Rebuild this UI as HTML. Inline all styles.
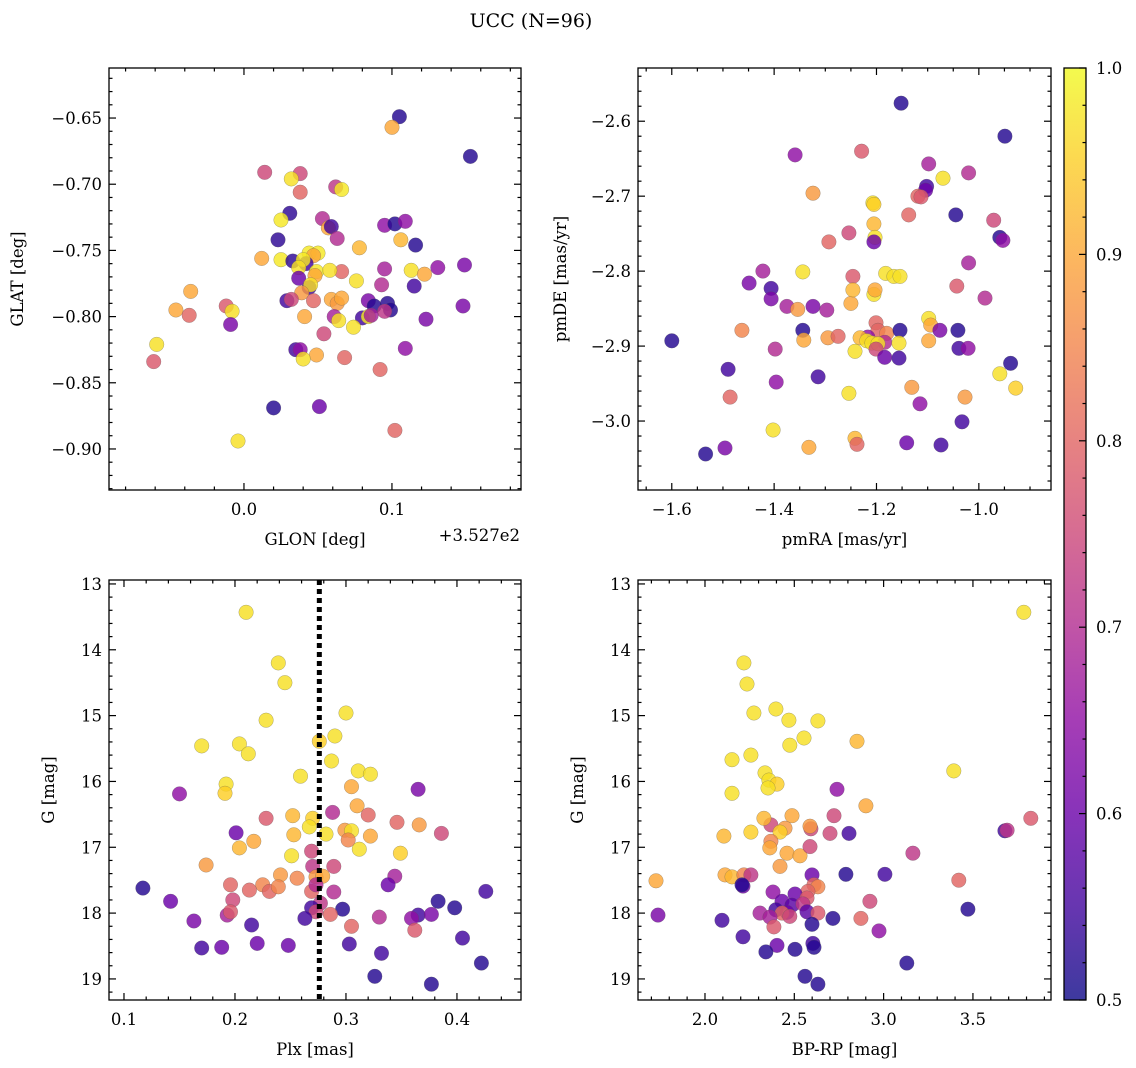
<!DOCTYPE html>
<html><head><meta charset="utf-8">
<style>
html,body{margin:0;padding:0;background:#fff;}
svg{display:block;font-family:"DejaVu Serif","Liberation Serif",serif;}
</style></head>
<body>
<svg id="fig" width="1136" height="1068" viewBox="0 0 1136 1068" xmlns="http://www.w3.org/2000/svg">
<defs>
<linearGradient id="plasma" x1="0" y1="1" x2="0" y2="0">
<stop offset="0" stop-color="#0d0887"/><stop offset="0.1" stop-color="#41049d"/><stop offset="0.2" stop-color="#6a00a8"/><stop offset="0.3" stop-color="#8f0da4"/><stop offset="0.4" stop-color="#b12a90"/><stop offset="0.5" stop-color="#cc4778"/><stop offset="0.6" stop-color="#e16462"/><stop offset="0.7" stop-color="#f2844b"/><stop offset="0.8" stop-color="#fca636"/><stop offset="0.9" stop-color="#fcce25"/><stop offset="1" stop-color="#f0f921"/>
</linearGradient>
</defs>
<text x="531" y="27" font-size="19" text-anchor="middle">UCC (N=96)</text>
</svg>
<script>
// ---------- data ----------
const tlX=[0.105,0.153,0.100,0.014,0.038,0.032,0.062,0.066,0.038,0.031,0.025,0.053,0.057,0.059,0.095,0.102,0.109,0.023,0.063,0.078,0.106,0.116,0.044,0.050,0.047,0.012,0.025,0.033,0.042,0.040,0.037,0.149,0.131,0.095,0.113,0.122,0.049,0.048,0.066,0.058,0.037,0.044,0.045,0.076,0.093,0.115,-0.036,0.039,0.029,0.032,0.047,0.059,0.063,0.066,0.084,0.088,0.097,0.099,0.148,-0.012,-0.046,-0.037,-0.008,0.041,0.061,0.064,0.080,0.084,0.095,0.086,0.123,0.074,-0.009,0.054,-0.059,0.035,0.038,0.109,0.049,0.068,0.040,-0.061,0.092,0.020,0.051,0.102,-0.004];
const tlY=[-0.649,-0.679,-0.657,-0.691,-0.692,-0.696,-0.702,-0.704,-0.706,-0.722,-0.727,-0.726,-0.733,-0.732,-0.731,-0.730,-0.728,-0.742,-0.741,-0.748,-0.742,-0.746,-0.752,-0.752,-0.754,-0.756,-0.757,-0.758,-0.760,-0.757,-0.763,-0.761,-0.763,-0.764,-0.765,-0.768,-0.766,-0.769,-0.766,-0.765,-0.771,-0.778,-0.776,-0.773,-0.776,-0.777,-0.781,-0.782,-0.788,-0.787,-0.788,-0.787,-0.790,-0.786,-0.788,-0.792,-0.790,-0.795,-0.792,-0.792,-0.795,-0.799,-0.796,-0.800,-0.800,-0.803,-0.801,-0.800,-0.796,-0.799,-0.802,-0.808,-0.806,-0.813,-0.821,-0.825,-0.825,-0.824,-0.829,-0.831,-0.832,-0.834,-0.840,-0.869,-0.868,-0.886,-0.894];
const tlC=[.52,.52,.9,.75,.75,.97,.72,.98,.8,.53,.98,.7,.9,.55,.65,.52,.65,.53,.7,.92,.92,.52,.98,.98,.9,.9,.98,.53,.55,.98,.97,.62,.65,.68,.97,.9,.98,.9,.8,.97,.6,.55,.97,.97,.7,.55,.9,.88,.55,.75,.8,.9,.88,.9,.62,.52,.52,.52,.62,.78,.9,.8,.97,.9,.68,.97,.55,.98,.72,.68,.62,.97,.62,.75,.97,.55,.65,.65,.9,.8,.97,.78,.8,.52,.6,.8,.97];

const trX=[-1.152,-0.949,-1.359,-1.229,-1.098,-1.070,-1.020,-1.102,-1.104,-1.119,-1.113,-1.324,-1.045,-1.137,-1.207,-1.205,-0.971,-0.959,-0.953,-1.254,-1.205,-1.203,-1.205,-1.293,-1.422,-1.344,-1.246,-1.182,-1.166,-1.154,-1.020,-1.449,-1.406,-1.406,-1.375,-1.354,-1.324,-1.297,-1.250,-1.246,-1.205,-1.203,-1.043,-0.988,-1.098,-1.094,-1.201,-1.197,-1.217,-1.180,-1.184,-1.154,-1.156,-1.076,-1.041,-1.344,-1.342,-1.295,-1.275,-1.232,-1.219,-1.209,-1.197,-1.463,-1.242,-1.201,-1.184,-1.156,-1.098,-1.039,-1.021,-0.938,-1.600,-1.490,-1.398,-1.396,-1.314,-0.959,-0.928,-1.131,-1.115,-1.254,-1.486,-1.027,-1.402,-1.033,-1.242,-1.238,-1.496,-1.332,-1.141,-1.074,-1.534];
const trY=[-2.576,-2.620,-2.645,-2.640,-2.657,-2.676,-2.669,-2.687,-2.692,-2.700,-2.701,-2.696,-2.725,-2.725,-2.709,-2.711,-2.732,-2.755,-2.759,-2.749,-2.737,-2.755,-2.761,-2.761,-2.800,-2.801,-2.807,-2.803,-2.807,-2.807,-2.789,-2.816,-2.823,-2.837,-2.847,-2.851,-2.847,-2.852,-2.843,-2.825,-2.831,-2.825,-2.820,-2.836,-2.863,-2.872,-2.869,-2.879,-2.888,-2.883,-2.895,-2.879,-2.896,-2.879,-2.879,-2.879,-2.892,-2.889,-2.887,-2.889,-2.893,-2.896,-2.897,-2.879,-2.907,-2.904,-2.915,-2.916,-2.893,-2.903,-2.903,-2.923,-2.893,-2.931,-2.904,-2.948,-2.941,-2.937,-2.956,-2.955,-2.977,-2.963,-2.968,-2.968,-3.012,-3.001,-3.023,-3.031,-3.036,-3.035,-3.029,-3.032,-3.044];
const trC=[.52,.52,.65,.78,.68,.97,.7,.55,.6,.8,.78,.88,.52,.8,.97,.95,.75,.52,.65,.75,.92,.97,.6,.8,.68,.97,.78,.97,.97,.97,.68,.62,.55,.62,.68,.88,.62,.68,.9,.92,.97,.9,.78,.7,.97,.9,.8,.8,.65,.85,.7,.52,.97,.62,.52,.52,.9,.88,.8,.92,.97,.97,.97,.85,.97,.75,.6,.55,.9,.55,.65,.52,.52,.55,.7,.65,.55,.97,.95,.88,.65,.97,.8,.88,.97,.55,.92,.8,.62,.9,.6,.55,.52];

const blX=[0.210,0.239,0.245,0.228,0.300,0.170,0.204,0.212,0.290,0.276,0.287,0.259,0.311,0.322,0.192,0.191,0.150,0.305,0.365,0.310,0.228,0.252,0.270,0.288,0.320,0.346,0.366,0.253,0.282,0.299,0.305,0.302,0.322,0.267,0.201,0.386,0.204,0.217,0.269,0.312,0.349,0.251,0.174,0.270,0.289,0.241,0.256,0.273,0.279,0.344,0.196,0.225,0.213,0.231,0.239,0.269,0.273,0.338,0.117,0.426,0.289,0.142,0.198,0.277,0.269,0.297,0.273,0.383,0.398,0.365,0.359,0.377,0.330,0.286,0.193,0.196,0.263,0.362,0.305,0.163,0.215,0.405,0.303,0.220,0.248,0.170,0.188,0.332,0.422,0.326,0.377];
const blY=[13.43,14.20,14.50,15.07,14.96,15.46,15.43,15.58,15.31,15.39,15.69,15.92,15.84,15.89,16.04,16.18,16.19,16.08,16.12,16.37,16.56,16.52,16.56,16.47,16.51,16.62,16.66,16.81,16.80,16.74,16.75,16.89,16.83,16.69,16.78,16.79,17.01,16.91,17.06,17.03,17.09,17.13,17.27,17.29,17.29,17.42,17.47,17.45,17.44,17.44,17.57,17.57,17.65,17.67,17.60,17.67,17.57,17.57,17.62,17.67,17.68,17.82,17.80,17.85,17.92,17.94,17.98,17.82,17.92,18.03,18.08,18.02,18.06,18.02,18.03,17.98,18.08,18.26,18.20,18.12,18.18,18.38,18.47,18.46,18.49,18.53,18.52,18.61,18.76,18.96,19.08];
const blC=[.97,.97,.97,.97,.97,.97,.97,.97,.97,.95,.97,.97,.97,.97,.97,.95,.65,.9,.62,.9,.78,.92,.95,.7,.8,.8,.88,.92,.97,.88,.97,.85,.9,.97,.6,.75,.92,.9,.75,.97,.95,.97,.88,.72,.75,.88,.85,.88,.9,.68,.8,.85,.8,.8,.85,.8,.7,.6,.52,.55,.7,.6,.75,.72,.55,.52,.75,.52,.52,.55,.65,.62,.7,.8,.68,.78,.55,.78,.8,.62,.55,.55,.55,.6,.6,.55,.6,.55,.52,.52,.52];

const brX=[3.785,2.218,2.235,2.274,2.397,2.470,2.554,2.475,2.851,2.632,2.151,2.257,2.336,2.358,2.403,2.353,2.151,3.393,2.739,2.901,3.824,2.722,2.487,2.369,2.593,2.448,2.330,2.106,2.257,2.420,2.588,2.700,2.806,3.679,3.691,3.164,2.369,2.459,2.363,2.532,2.588,2.420,1.726,2.112,2.151,2.218,2.257,2.599,2.789,3.007,3.421,2.610,2.632,2.576,2.381,2.504,2.213,2.207,2.571,2.431,2.487,2.548,2.923,2.397,2.459,2.571,2.308,2.431,2.632,2.475,3.472,1.737,2.095,2.364,2.599,2.716,2.873,2.386,2.974,2.213,2.403,2.604,2.610,2.504,2.341,3.130,2.560,2.632];
const brY=[13.43,14.20,14.52,14.96,14.90,15.07,15.34,15.45,15.39,15.08,15.67,15.60,15.87,15.98,16.04,16.10,16.18,15.84,16.12,16.37,16.56,16.52,16.52,16.66,16.72,16.71,16.56,16.83,16.77,16.77,16.68,16.79,16.79,16.75,16.74,17.09,16.91,17.09,17.01,17.13,16.99,17.29,17.51,17.42,17.45,17.42,17.42,17.42,17.41,17.41,17.50,17.57,17.60,17.67,17.68,17.71,17.59,17.57,17.77,17.82,17.88,17.86,17.82,17.95,17.99,17.98,18.00,18.00,18.00,18.05,17.94,18.03,18.11,18.06,18.17,18.08,18.08,18.21,18.27,18.36,18.49,18.46,18.52,18.55,18.59,18.76,18.96,19.08];
const brC=[.97,.97,.97,.97,.97,.97,.97,.97,.92,.97,.97,.97,.97,.97,.95,.97,.97,.97,.65,.9,.78,.75,.9,.75,.75,.88,.92,.92,.95,.95,.88,.75,.55,.55,.72,.72,.85,.9,.9,.9,.75,.88,.9,.9,.92,.85,.72,.6,.52,.55,.8,.8,.85,.8,.65,.6,.6,.52,.78,.6,.58,.72,.75,.55,.6,.58,.68,.8,.78,.75,.52,.62,.55,.68,.52,.52,.8,.78,.65,.55,.6,.55,.52,.52,.52,.52,.52,.52];

const plxLine=[0.276];
const cbTicks=[0.5,0.6,0.7,0.8,0.9,1.0];

// ---------- helpers ----------
const NS='http://www.w3.org/2000/svg';
const svg=document.getElementById('fig');
function mk(tag,attrs,parent){const e=document.createElementNS(NS,tag);for(const k in attrs)e.setAttribute(k,attrs[k]);(parent||svg).appendChild(e);return e;}
const stops=[[0,[13,8,135]],[0.1,[65,4,157]],[0.2,[106,0,168]],[0.3,[143,13,164]],[0.4,[177,42,144]],[0.5,[204,71,120]],[0.6,[225,100,98]],[0.7,[242,132,75]],[0.8,[252,166,54]],[0.9,[252,206,37]],[1,[240,249,33]]];
function plasma(v){let t=Math.max(0,Math.min(1,(v-0.5)/0.5));for(let i=1;i<stops.length;i++){if(t<=stops[i][0]){const a=stops[i-1],b=stops[i];const f=(t-a[0])/(b[0]-a[0]);return 'rgb('+a[1].map((c,j)=>Math.round(c+(b[1][j]-c)*f)).join(',')+')';}}return 'rgb(240,249,33)';}
function fmt(v,d){return (v<0?'\u2212':'')+Math.abs(v).toFixed(d);}

function panel(p){
  const g=mk('g',{});
  
  
  const sx=v=>p.L+(v-p.x0)/(p.x1-p.x0)*(p.R-p.L);
  const sy=v=>p.B-(v-p.y0)/(p.y1-p.y0)*(p.B-p.T);
  const pg=mk('g',{},g);
  
  
  for(let i=0;i<p.xs.length;i++){
    const c=mk('circle',{cx:sx(p.xs[i]).toFixed(1),cy:sy(p.ys[i]).toFixed(1),r:7.3,fill:plasma(p.cs[i]),'fill-opacity':0.82,stroke:'#555','stroke-width':0.4,'stroke-opacity':0.6},pg);
    
    
  }
  if(p.vline){for(const v of p.vline){const l=mk('line',{x1:sx(v),x2:sx(v),y1:p.T,y2:p.B,stroke:'#000','stroke-width':5,'stroke-dasharray':'5,4'},g);
    
    }}
  const tg=mk('g',{stroke:'#000','stroke-width':1.2},g);
  
  
  const lo=Math.min(p.x0,p.x1),hi=Math.max(p.x0,p.x1);
  for(let k=Math.ceil(lo/p.xmin-1e-6);k*p.xmin<=hi+1e-9;k++){const v=k*p.xmin;const X=sx(v);const maj=Math.abs(v/p.xmaj-Math.round(v/p.xmaj))<1e-6;const len=maj?7:3.5;
    mk('line',{x1:X,x2:X,y1:p.B,y2:p.B-len},tg);mk('line',{x1:X,x2:X,y1:p.T,y2:p.T+len},tg);
    if(maj){const t=mk('text',{x:X,y:p.B+25,'font-size':16.5,'text-anchor':'middle',stroke:'none'},g);t.textContent=fmt(v,p.xd);
      
      }}
  const ylo=Math.min(p.y0,p.y1),yhi=Math.max(p.y0,p.y1);
  for(let k=Math.ceil(ylo/p.ymin-1e-6);k*p.ymin<=yhi+1e-9;k++){const v=k*p.ymin;const Y=sy(v);const maj=Math.abs(v/p.ymaj-Math.round(v/p.ymaj))<1e-6;const len=maj?7:3.5;
    mk('line',{x1:p.L,x2:p.L+len,y1:Y,y2:Y},tg);mk('line',{x1:p.R,x2:p.R-len,y1:Y,y2:Y},tg);
    if(maj){const t=mk('text',{x:p.L-7,y:Y+6,'font-size':16.5,'text-anchor':'end',stroke:'none'},g);t.textContent=fmt(v,p.yd);
      
      }}
  const fr=mk('rect',{x:p.L,y:p.T,width:p.R-p.L,height:p.B-p.T,fill:'none',stroke:'#000','stroke-width':1.3},g);
  
  
  const xt=mk('text',{x:(p.L+p.R)/2,y:p.B+55,'font-size':16.5,'text-anchor':'middle'},g);xt.textContent=p.xl;
  
  
  const yx=p.L-p.ylo, yy=(p.T+p.B)/2;
  const yt=mk('text',{x:yx,y:yy,'font-size':16.5,'text-anchor':'middle',transform:'rotate(-90 '+yx+' '+yy+')'},g);yt.textContent=p.yl;
  
  
}

panel({name:'glon-glat-panel',L:109,R:521,T:68,B:490,x0:-0.0912,x1:0.1872,y0:-0.931,y1:-0.6122,xmaj:0.1,xmin:0.02,ymaj:0.05,ymin:0.01,xd:1,yd:2,xs:tlX,ys:tlY,cs:tlC,xl:'GLON [deg]',yl:'GLAT [deg]',ylo:86});
const off=mk('text',{x:520,y:541,'font-size':16.5,'text-anchor':'end'});off.textContent='+3.527e2';


panel({name:'pm-panel',L:638,R:1051,T:68,B:490,x0:-1.666,x1:-0.859,y0:-3.092,y1:-2.529,xmaj:0.2,xmin:0.05,ymaj:0.1,ymin:0.02,xd:1,yd:1,xs:trX,ys:trY,cs:trC,xl:'pmRA [mas/yr]',yl:'pmDE [mas/yr]',ylo:72});
panel({name:'plx-g-panel',L:109,R:521,T:580,B:1000,x0:0.0865,x1:0.4577,y0:19.32,y1:12.94,xmaj:0.1,xmin:0.02,ymaj:1,ymin:0.2,xd:1,yd:0,xs:blX,ys:blY,cs:blC,xl:'Plx [mas]',yl:'G [mag]',vline:plxLine,ylo:55});
panel({name:'color-g-panel',L:638,R:1051,T:580,B:1000,x0:1.625,x1:3.937,y0:19.32,y1:12.94,xmaj:0.5,xmin:0.1,ymaj:1,ymin:0.2,xd:1,yd:0,xs:brX,ys:brY,cs:brC,xl:'BP-RP [mag]',yl:'G [mag]',ylo:55});

const cb=mk('g',{});


const cT=68,cB=1000,cL=1064,cR=1086;
mk('rect',{x:cL,y:cT,width:cR-cL,height:cB-cT,fill:'url(#plasma)','fill-opacity':0.8},cb);
mk('rect',{x:cL,y:cT,width:cR-cL,height:cB-cT,fill:'none',stroke:'#000','stroke-width':1.3},cb);
const cy=v=>cB-(v-0.5)/0.5*(cB-cT);
for(let k=25;k<=50;k++){const v=k/50;const maj=k%5===0;mk('line',{x1:cR,x2:cR-(maj?7:3.5),y1:cy(v),y2:cy(v),stroke:'#000','stroke-width':1.2},cb);}
for(const v of cbTicks){const t=mk('text',{x:cR+10,y:cy(v)+6,'font-size':16.5},cb);t.textContent=v.toFixed(1);
  
  }
</script>
</body></html>
